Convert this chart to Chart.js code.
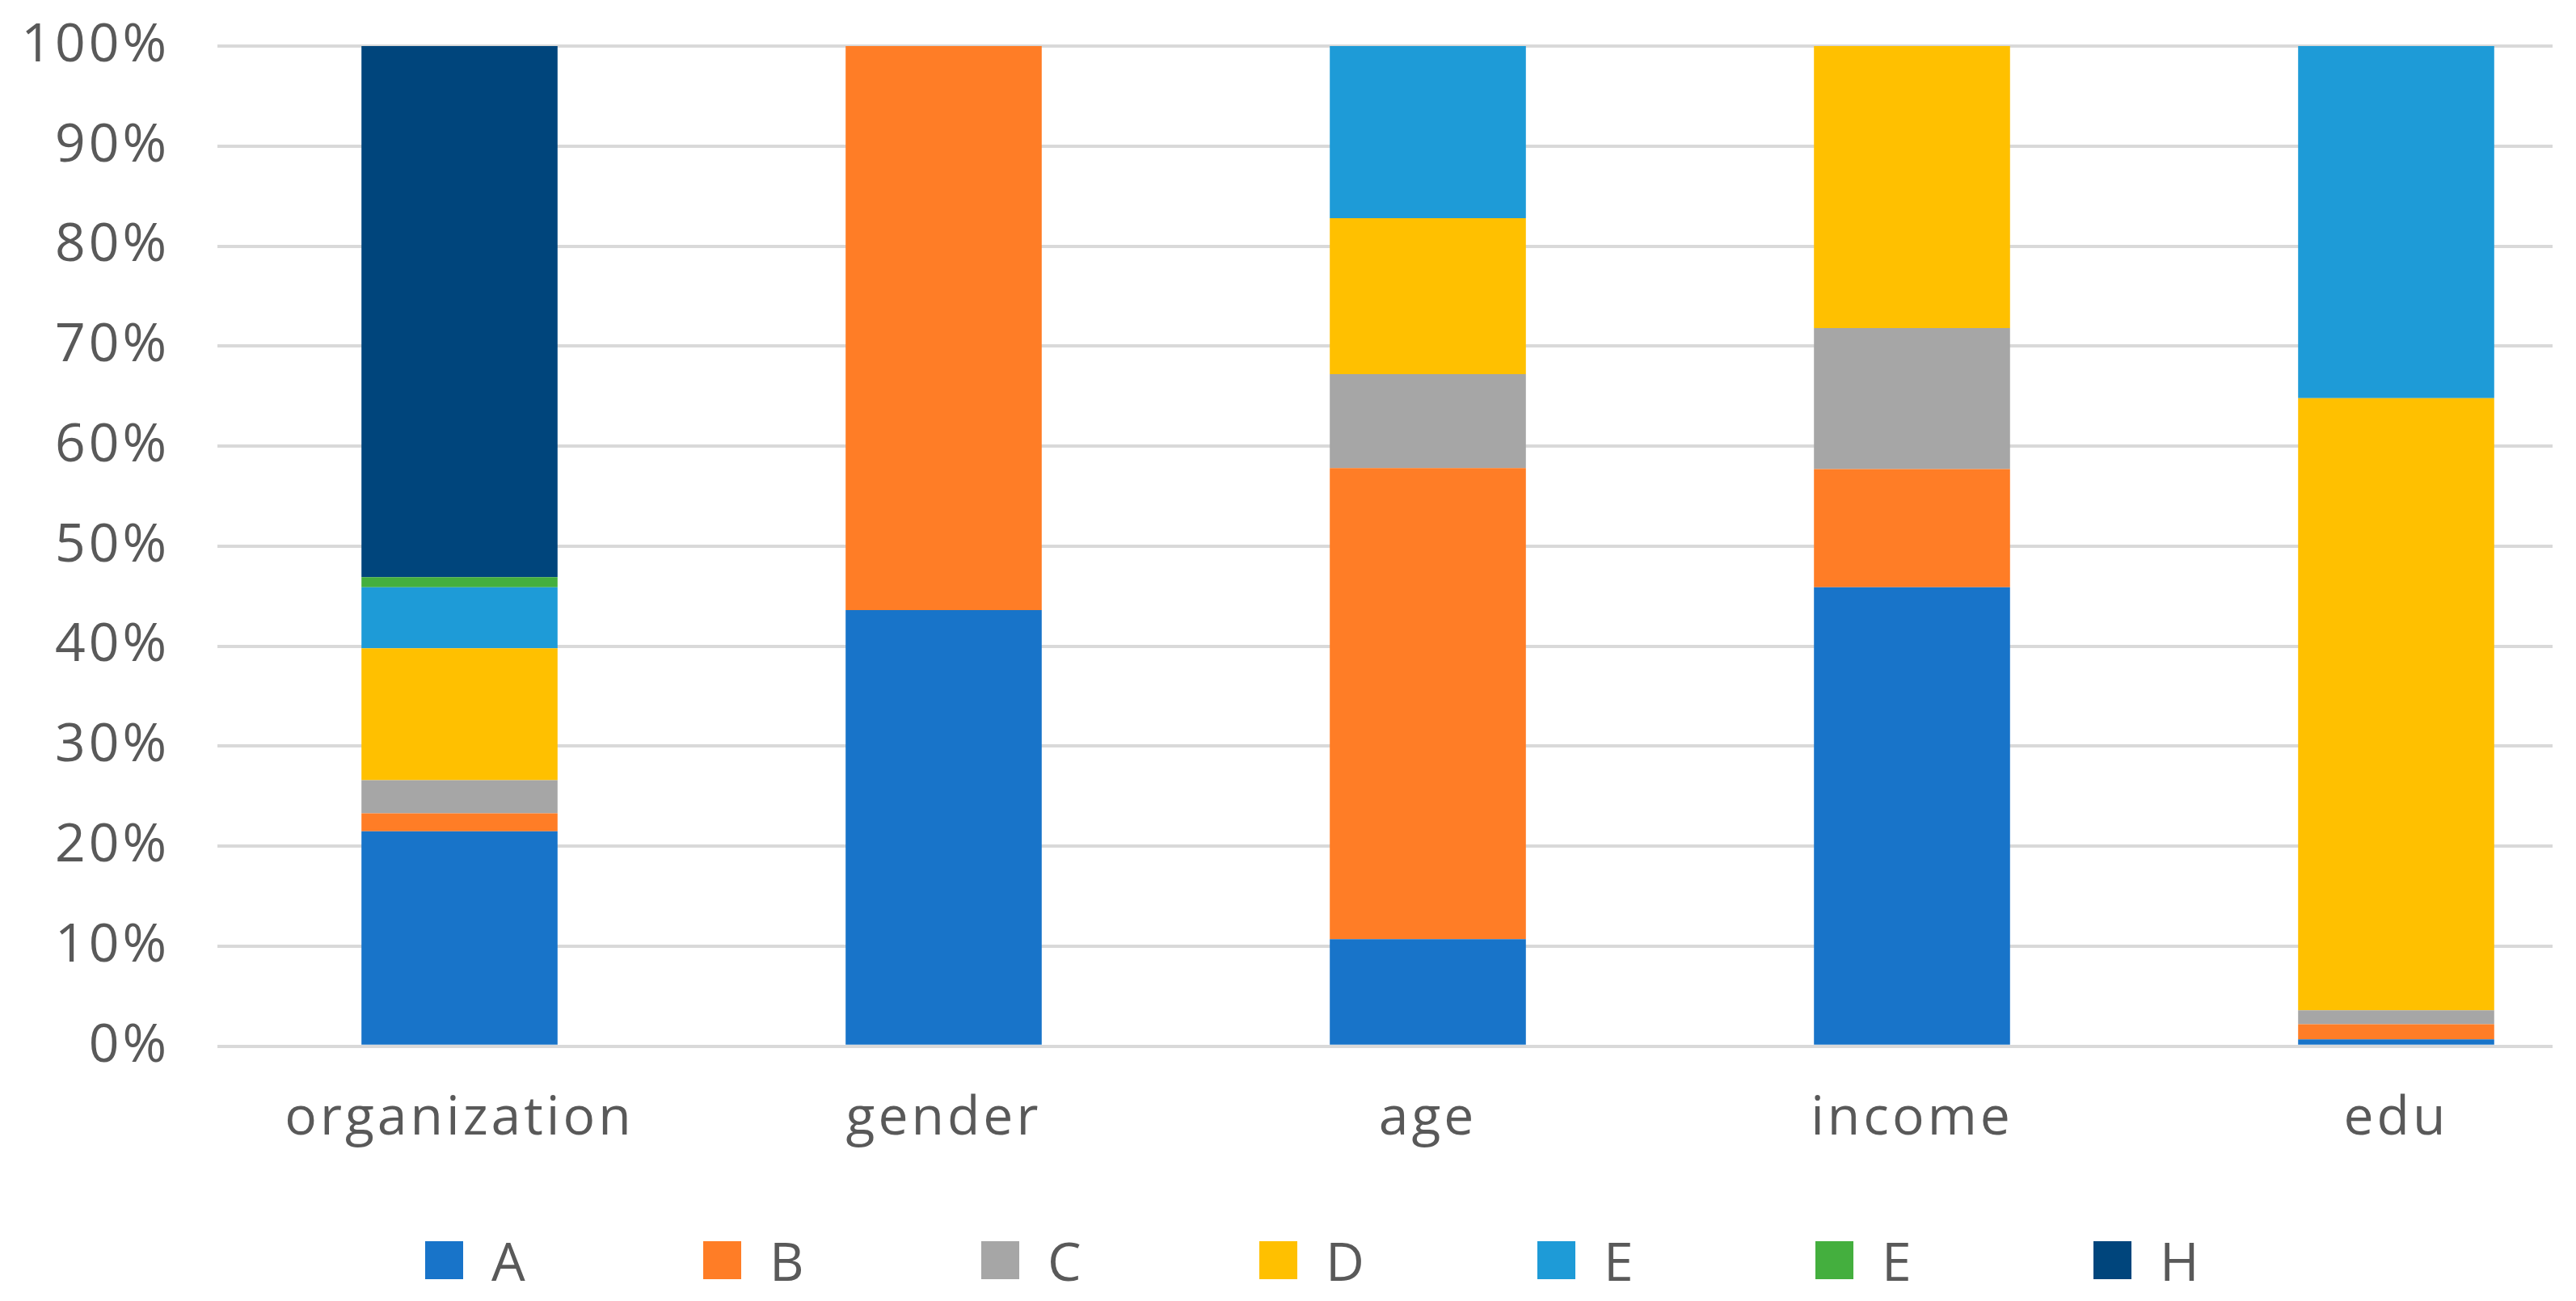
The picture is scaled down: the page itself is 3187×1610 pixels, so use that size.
<!DOCTYPE html>
<html>
<head>
<meta charset="utf-8">
<script src="https://cdn.jsdelivr.net/npm/chart.js@4/dist/chart.umd.min.js"></script>
<style>
  html, body { margin: 0; padding: 0; background: #fff; }
  #wrap { position: relative; width: 3187px; height: 1610px; overflow: hidden; }
  #c { position: absolute; left: 0; top: 0; }
  #legend { position: absolute; left: 526px; top: 1514px; display: flex;
            font-family: 'Open Sans', sans-serif; font-size: 66px; letter-spacing: 4px; color: #595959; }
  #legend .item { width: 344px; height: 90px; display: flex; align-items: center; }
  #legend .box { width: 47px; height: 47px; margin-right: 35px; }
</style>
</head>
<body>
<div id="wrap">
  <!-- the source figure is cropped on the right, so the canvas runs past the frame -->
  <canvas id="c" width="3264" height="1610"></canvas>
  <div id="legend"></div>
</div>
<script>
// categories and tick labels
const categories = ['organization', 'gender', 'age', 'income', 'edu'];
const yTicks = [0, 10, 20, 30, 40, 50, 60, 70, 80, 90, 100];

// series values (percent of each category), bottom to top
const seriesNames = ['A', 'B', 'C', 'D', 'E', 'E', 'H'];
const valuesA = [21.5, 43.6, 10.7, 45.9, 0.7];
const valuesB = [1.8, 56.4, 47.1, 11.8, 1.5];
const valuesC = [3.3, 0, 9.4, 14.1, 1.4];
const valuesD = [13.2, 0, 15.6, 28.2, 61.2];
const valuesE = [6.1, 0, 17.2, 0, 35.2];
const valuesE2 = [1.0, 0, 0, 0, 0];
const valuesH = [53.1, 0, 0, 0, 0];

const seriesColors = ['#1874C9', '#FF7D26', '#A6A6A6', '#FFC000', '#1E9BD7', '#44AF3E', '#00457C'];
const seriesValues = [valuesA, valuesB, valuesC, valuesD, valuesE, valuesE2, valuesH];

const textColor = '#595959';
const fontFamily = "'Open Sans', sans-serif";
const gridEnd = 3158;

const datasets = seriesNames.map((name, i) => ({
  label: name,
  data: seriesValues[i],
  backgroundColor: seriesColors[i],
  borderWidth: 0,
  barPercentage: 0.405,
  categoryPercentage: 1.0
}));

// canvas text spacing to match the wide low-res lettering
const spacingPlugin = {
  id: 'spacing',
  beforeDraw(chart) { chart.ctx.letterSpacing = '4px'; },
  afterDraw(chart) {
    // gridlines stop short of the right edge in the source
    const a = chart.chartArea, ctx = chart.ctx;
    ctx.save();
    ctx.fillStyle = '#fff';
    ctx.fillRect(gridEnd, a.top - 5, chart.width - gridEnd, a.bottom - a.top + 10);
    ctx.restore();
  }
};

const chart = new Chart(document.getElementById('c'), {
  type: 'bar',
  data: { labels: categories, datasets: datasets },
  options: {
    responsive: false,
    devicePixelRatio: 1,
    animation: false,
    layout: { padding: { left: 0, right: 0, top: 57, bottom: 134 } },
    plugins: { legend: { display: false }, tooltip: { enabled: false } },
    scales: {
      x: {
        stacked: true,
        grid: { display: false, drawTicks: false },
        border: { display: false },
        ticks: { color: textColor, font: { family: fontFamily, size: 66 }, padding: 51, maxRotation: 0 }
      },
      y: {
        stacked: true,
        min: 0,
        max: 100,
        afterBuildTicks(scale) { scale.ticks = yTicks.map(v => ({ value: v })); },
        afterFit(scale) { scale.width = 269; scale.paddingTop = 0; scale.paddingBottom = 0; },
        grid: { color: '#D9D9D9', lineWidth: 4, drawTicks: false },
        border: { display: false },
        ticks: { color: textColor, font: { family: fontFamily, size: 66 }, padding: 59,
                 callback: v => v + '%' }
      }
    }
  },
  plugins: [spacingPlugin]
});

// legend built from the datasets
const legend = document.getElementById('legend');
chart.data.datasets.forEach(ds => {
  const item = document.createElement('div');
  item.className = 'item';
  const box = document.createElement('div');
  box.className = 'box';
  box.style.background = ds.backgroundColor;
  const label = document.createElement('span');
  label.textContent = ds.label;
  item.appendChild(box);
  item.appendChild(label);
  legend.appendChild(item);
});
</script>
</body>
</html>
